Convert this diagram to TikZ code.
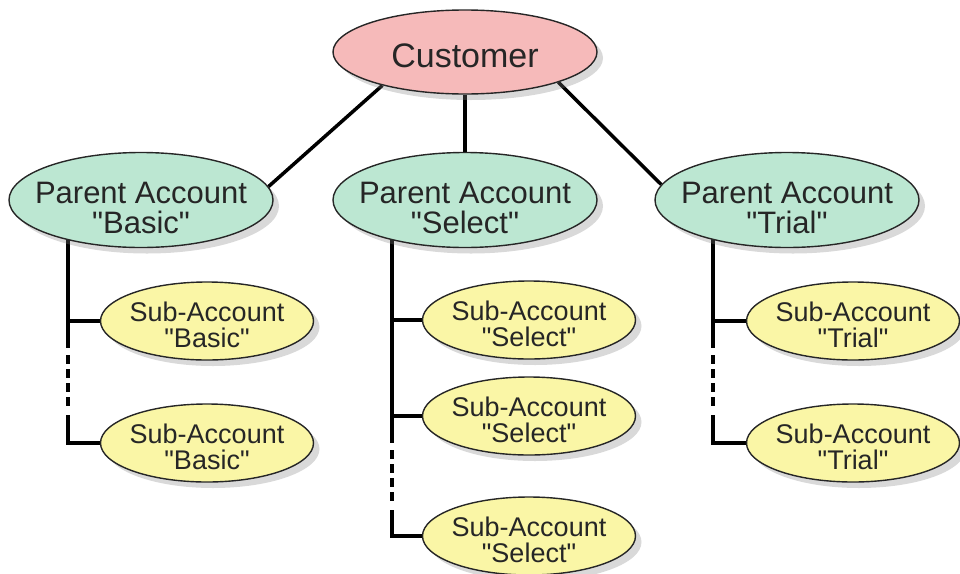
\documentclass[tikz,border=0pt]{standalone}
\usepackage{fontspec}
\newfontfamily\chartfont{Liberation Sans}
\usetikzlibrary{shapes.geometric,shadows,backgrounds}
\definecolor{custpink}{RGB}{246,186,186}
\definecolor{parentgreen}{RGB}{188,231,210}
\definecolor{subyellow}{RGB}{250,246,166}

\begin{document}
\begin{tikzpicture}[
  x=1pt, y=-1pt,
  oval/.style={ellipse, draw=black!85, line width=1.4pt, inner xsep=-40pt, inner ysep=-15pt,
               align=center, text=black!85,
               drop shadow={shadow xshift=6pt, shadow yshift=-6pt, opacity=0.3}},
  textdrop/.style={execute at begin node={\def\lift{\rule{0pt}{#1}}}},
  custbox/.style={oval, fill=custpink, minimum width=264pt, minimum height=84pt,
                  font=\chartfont\fontsize{34}{34}\selectfont, textdrop=31pt},
  parentbox/.style={oval, fill=parentgreen, minimum width=264pt, minimum height=95pt,
                    font=\chartfont\fontsize{31}{30}\selectfont, textdrop=37pt},
  subbox/.style={oval, fill=subyellow, minimum width=213pt, minimum height=78pt,
                 font=\chartfont\fontsize{27}{26}\selectfont, textdrop=28pt},
  link/.style={line width=3.5pt, black},
  dashlink/.style={link, dash pattern=on 27pt off 7pt on 9pt off 5pt on 9pt off 5pt on 9pt off 5pt on 9pt off 9pt on 90pt}
]
\useasboundingbox (0,0) rectangle (960,573);

% ovals
\node[custbox]   (cust)  at (465,52)  {\lift Customer};
\node[parentbox] (basic) at (141,200) {\lift Parent Account\\"Basic"};
\node[parentbox] (sel)   at (465,200) {\lift Parent Account\\"Select"};
\node[parentbox] (trial) at (787,200) {\lift Parent Account\\"Trial"};

\node[subbox] (bsub1) at (207,321) {\lift Sub-Account\\"Basic"};
\node[subbox] (bsub2) at (207,443) {\lift Sub-Account\\"Basic"};
\node[subbox] (ssub1) at (529,320) {\lift Sub-Account\\"Select"};
\node[subbox] (ssub2) at (529,416) {\lift Sub-Account\\"Select"};
\node[subbox] (ssub3) at (529,536) {\lift Sub-Account\\"Select"};
\node[subbox] (tsub1) at (853,321) {\lift Sub-Account\\"Trial"};
\node[subbox] (tsub2) at (853,443) {\lift Sub-Account\\"Trial"};

% trunks
\coordinate (btop) at (68,200);
\coordinate (stop) at (392,200);
\coordinate (ttop) at (713,200);

\begin{scope}[on background layer]
\draw[link] (cust.202) -- (basic.6);
\draw[link] (cust.south) -- (sel.north);
\draw[link] (cust.342) -- (trial.173);

\draw[link] (btop) |- (bsub1.west);
\draw[dashlink] (btop |- bsub1.west) |- (bsub2.west);

\draw[link] (stop) |- (ssub1.west);
\draw[link] (stop |- ssub1.west) |- (ssub2.west);
\draw[dashlink] (stop |- ssub2.west) |- (ssub3.west);

\draw[link] (ttop) |- (tsub1.west);
\draw[dashlink] (ttop |- tsub1.west) |- (tsub2.west);
\end{scope}
\end{tikzpicture}
\end{document}
